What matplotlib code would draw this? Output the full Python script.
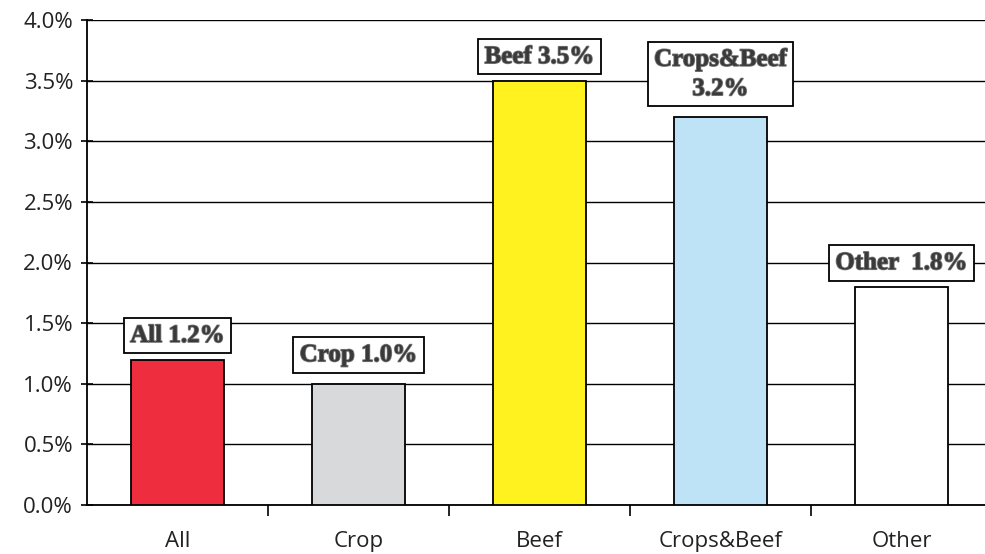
import matplotlib.pyplot as plt
import matplotlib.patheffects as pe
from matplotlib.ticker import PercentFormatter

categories = ['All', 'Crop', 'Beef', 'Crops&Beef', 'Other']
values = [1.2, 1.0, 3.5, 3.2, 1.8]
labels = ['All 1.2%', 'Crop 1.0%', 'Beef 3.5%', 'Crops&Beef\n3.2%', 'Other  1.8%']

colors = ['#EE2D3F', '#D8D9DB', '#FFF21E', '#BEE3F7', '#FFFFFF']
# label box offset above bar top, in pixels
label_dy = [24, 29, 24, 43, 24]

fig = plt.figure(figsize=(9.85, 5.54), dpi=100)
ax = fig.add_axes([87 / 985, 49 / 554, 905 / 985, 485 / 554])

x = range(len(categories))
ax.bar(x, values, width=0.51, color=colors, edgecolor='black', linewidth=1.3, zorder=3)

ax.set_ylim(0, 4.0)
ax.set_xlim(-0.5, len(categories) - 0.5)
ax.set_yticks([i * 0.5 for i in range(9)])
ax.yaxis.set_major_formatter(PercentFormatter(decimals=1))
ax.grid(axis='y', color='black', linewidth=1.0, zorder=0)

# category ticks sit between bars
ax.set_xticks(x)
ax.set_xticklabels(categories)
ax.set_xticks([i + 0.5 for i in range(len(categories) - 1)], minor=True)
ax.tick_params(axis='x', which='major', length=0, pad=19, labelsize=16)
ax.tick_params(axis='x', which='minor', length=8, width=1.2, direction='out')
ax.tick_params(axis='y', length=8, width=1.2, direction='inout', labelsize=16, pad=6)
for lbl in ax.get_xticklabels() + ax.get_yticklabels():
    lbl.set_fontfamily('Open Sans')
    lbl.set_color('#222222')

for s in ['top', 'right']:
    ax.spines[s].set_visible(False)
ax.spines['left'].set_linewidth(1.3)
ax.spines['bottom'].set_linewidth(1.3)

for i, (v, t, dy) in enumerate(zip(values, labels, label_dy)):
    ax.annotate(t, xy=(i, v), xytext=(0, dy), textcoords='offset pixels',
                ha='center', va='center', fontsize=18, fontweight='bold',
                family='Liberation Serif', color='#3a3a3a', linespacing=1.35,
                bbox=dict(boxstyle='square,pad=0.25', fc='white', ec='black', lw=1.3),
                path_effects=[pe.withStroke(linewidth=1.2, foreground='#777777')],
                zorder=5)

fig.savefig('out.png', dpi=100)
